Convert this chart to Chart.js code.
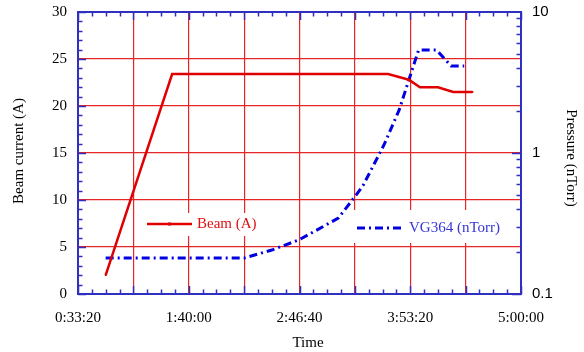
<!DOCTYPE html>
<html>
<head>
<meta charset="utf-8">
<script src="https://cdn.jsdelivr.net/npm/chart.js@4/dist/chart.umd.min.js"></script>
<style>
  html, body { margin: 0; padding: 0; background: #fff; }
  #wrap { width: 584px; height: 352px; }
</style>
</head>
<body>
<div id="wrap"><canvas id="beamChart" width="584" height="352"></canvas></div>
<script>
// Temps en secondes depuis minuit
const beamTimes  = [3000, 5400, 7800, 9600, 11400, 12300, 13200, 13950, 14350, 15000, 15550, 16250];
const beamValues = [2.0, 23.4, 23.4, 23.4, 23.4, 23.4, 23.4, 22.8, 22.0, 22.0, 21.5, 21.5];

const vgTimes  = [3000, 8000, 9000, 10000, 11400, 12000, 12300, 13050, 13600, 13950, 14300, 14950, 15480, 15950];
const vgValues = [0.18, 0.18, 0.205, 0.243, 0.345, 0.49, 0.59, 1.14, 2.02, 3.3, 5.37, 5.37, 4.14, 4.14];

const timeTicks     = [2000, 6000, 10000, 14000, 18000];
const beamTicks     = [0, 5, 10, 15, 20, 25, 30];
const pressureTicks = [0.1, 1, 10];

const RED = '#e00000';
const GRID_RED = '#e62626';
const BLUE_LINE = '#0000e0';
const AXIS_BLUE = '#3030c0';
const SERIF = '"Liberation Serif", "Times New Roman", serif';
const SANS = '"Liberation Sans", Arial, sans-serif';

// h:mm:ss
function fmtTime(s) {
  const h = Math.floor(s / 3600);
  const m = Math.floor((s % 3600) / 60);
  const sec = Math.round(s % 60);
  return h + ':' + String(m).padStart(2, '0') + ':' + String(sec).padStart(2, '0');
}

function near(list, v) {
  return list.some(p => Math.abs(v - p) < 1e-6 * Math.max(1, p));
}

// Largeur fixe des axes verticaux, sans marge pour les étiquettes extrêmes
function fixWidth(w) {
  return s => { s.width = w; s.paddingTop = 0; s.paddingBottom = 0; };
}

// Légendes, cadre bleu, graduations intérieures et titres des axes
const cadrePlugin = {
  id: 'cadre',
  beforeDatasetsDraw(chart) {
    const ctx = chart.ctx;
    ctx.save();
    ctx.fillStyle = '#fff';
    ctx.fillRect(140, 213, 123, 23);
    ctx.fillRect(350, 210, 158, 33);

    ctx.lineWidth = 2.5;
    ctx.strokeStyle = RED;
    ctx.beginPath();
    ctx.moveTo(147, 224); ctx.lineTo(192, 224);
    ctx.stroke();
    ctx.fillStyle = RED;
    ctx.fillRect(168, 222.5, 3, 3);

    ctx.lineWidth = 3;
    ctx.strokeStyle = BLUE_LINE;
    ctx.setLineDash([8, 4, 2, 4]);
    ctx.beginPath();
    ctx.moveTo(357, 228); ctx.lineTo(404, 228);
    ctx.stroke();
    ctx.setLineDash([]);

    ctx.font = '15px ' + SERIF;
    ctx.textBaseline = 'middle';
    ctx.textAlign = 'left';
    ctx.fillStyle = '#e01010';
    ctx.fillText('Beam (A)', 197, 224);
    ctx.fillStyle = '#3434d8';
    ctx.fillText('VG364 (nTorr)', 409, 228);
    ctx.restore();
  },
  afterDatasetsDraw(chart) {
    const ctx = chart.ctx;
    const a = chart.chartArea;
    const sx = chart.scales.x, sy = chart.scales.y, sp = chart.scales.y2;
    ctx.save();
    ctx.strokeStyle = AXIS_BLUE;
    ctx.lineWidth = 1.5;
    ctx.beginPath();
    for (let t = 2000; t <= 18000; t += 500) {
      const px = Math.round(sx.getPixelForValue(t)) + 0.5;
      const len = (t % 2000 === 0) ? 8 : 4.5;
      ctx.moveTo(px, a.bottom); ctx.lineTo(px, a.bottom - len);
      ctx.moveTo(px, a.top); ctx.lineTo(px, a.top + len);
    }
    for (let v = 0; v <= 30; v += 1) {
      const py = Math.round(sy.getPixelForValue(v)) + 0.5;
      const len = (v % 5 === 0) ? 8 : 4.5;
      ctx.moveTo(a.left, py); ctx.lineTo(a.left + len, py);
    }
    [0.1, 1].forEach(d => {
      for (let m = 1; m <= 9; m++) {
        const py = Math.round(sp.getPixelForValue(m * d)) + 0.5;
        const len = (m === 1) ? 9 : 4.5;
        ctx.moveTo(a.right, py); ctx.lineTo(a.right - len, py);
      }
    });
    ctx.stroke();

    ctx.lineWidth = 2;
    ctx.strokeRect(a.left, a.top, a.right - a.left, a.bottom - a.top);

    ctx.fillStyle = '#000';
    ctx.font = '15px ' + SERIF;
    ctx.textAlign = 'center';
    ctx.textBaseline = 'middle';
    ctx.fillText('Time', 308, 343);

    ctx.save();
    ctx.translate(19, 151);
    ctx.rotate(-Math.PI / 2);
    ctx.fillText('Beam current (A)', 0, 0);
    ctx.restore();

    ctx.save();
    ctx.translate(571, 158);
    ctx.rotate(Math.PI / 2);
    ctx.fillText('Pressure (nTorr)', 0, 0);
    ctx.restore();
    ctx.restore();
  }
};

const data = {
  datasets: [
    {
      label: 'Beam (A)',
      data: beamTimes.map((t, i) => ({ x: t, y: beamValues[i] })),
      yAxisID: 'y',
      borderColor: RED,
      backgroundColor: RED,
      borderWidth: 2.5,
      pointRadius: 1.2,
      pointStyle: 'rect',
      pointBorderWidth: 0,
      tension: 0
    },
    {
      label: 'VG364 (nTorr)',
      data: vgTimes.map((t, i) => ({ x: t, y: vgValues[i] })),
      yAxisID: 'y2',
      borderColor: BLUE_LINE,
      backgroundColor: BLUE_LINE,
      borderWidth: 3,
      borderDash: [8, 4, 2, 4],
      pointRadius: 0,
      tension: 0
    }
  ]
};

const config = {
  type: 'line',
  data: data,
  options: {
    responsive: false,
    animation: false,
    layout: { padding: { top: 12 } },
    plugins: {
      legend: { display: false },
      tooltip: { enabled: false }
    },
    scales: {
      x: {
        type: 'linear',
        position: 'bottom',
        min: 2000,
        max: 18000,
        afterFit: s => { s.height = 58; },
        border: { display: false },
        grid: {
          drawTicks: false,
          lineWidth: 1.2,
          color: c => (c.tick && (c.tick.value === 2000 || c.tick.value === 18000)) ? 'rgba(0,0,0,0)' : GRID_RED
        },
        ticks: {
          stepSize: 2000,
          autoSkip: false,
          maxRotation: 0,
          padding: 15,
          color: '#000',
          font: { family: SERIF, size: 15 },
          callback: v => near(timeTicks, v) ? fmtTime(v) : ''
        }
      },
      y: {
        position: 'left',
        min: 0,
        max: 30,
        afterFit: fixWidth(78),
        border: { display: false },
        grid: {
          drawTicks: false,
          lineWidth: 1.2,
          color: c => (c.tick && (c.tick.value === 0 || c.tick.value === 30)) ? 'rgba(0,0,0,0)' : GRID_RED
        },
        ticks: {
          stepSize: 5,
          autoSkip: false,
          padding: 11,
          color: '#000',
          font: { family: SERIF, size: 15 },
          callback: v => near(beamTicks, v) ? String(v) : ''
        }
      },
      y2: {
        type: 'logarithmic',
        position: 'right',
        min: 0.1,
        max: 10,
        afterFit: fixWidth(63),
        border: { display: false },
        grid: { display: false, drawTicks: false },
        ticks: {
          autoSkip: false,
          padding: 11,
          color: '#000',
          font: { family: SANS, size: 15 },
          callback: v => near(pressureTicks, v) ? String(v) : ''
        }
      }
    }
  },
  plugins: [cadrePlugin]
};

new Chart(document.getElementById('beamChart'), config);
</script>
</body>
</html>
